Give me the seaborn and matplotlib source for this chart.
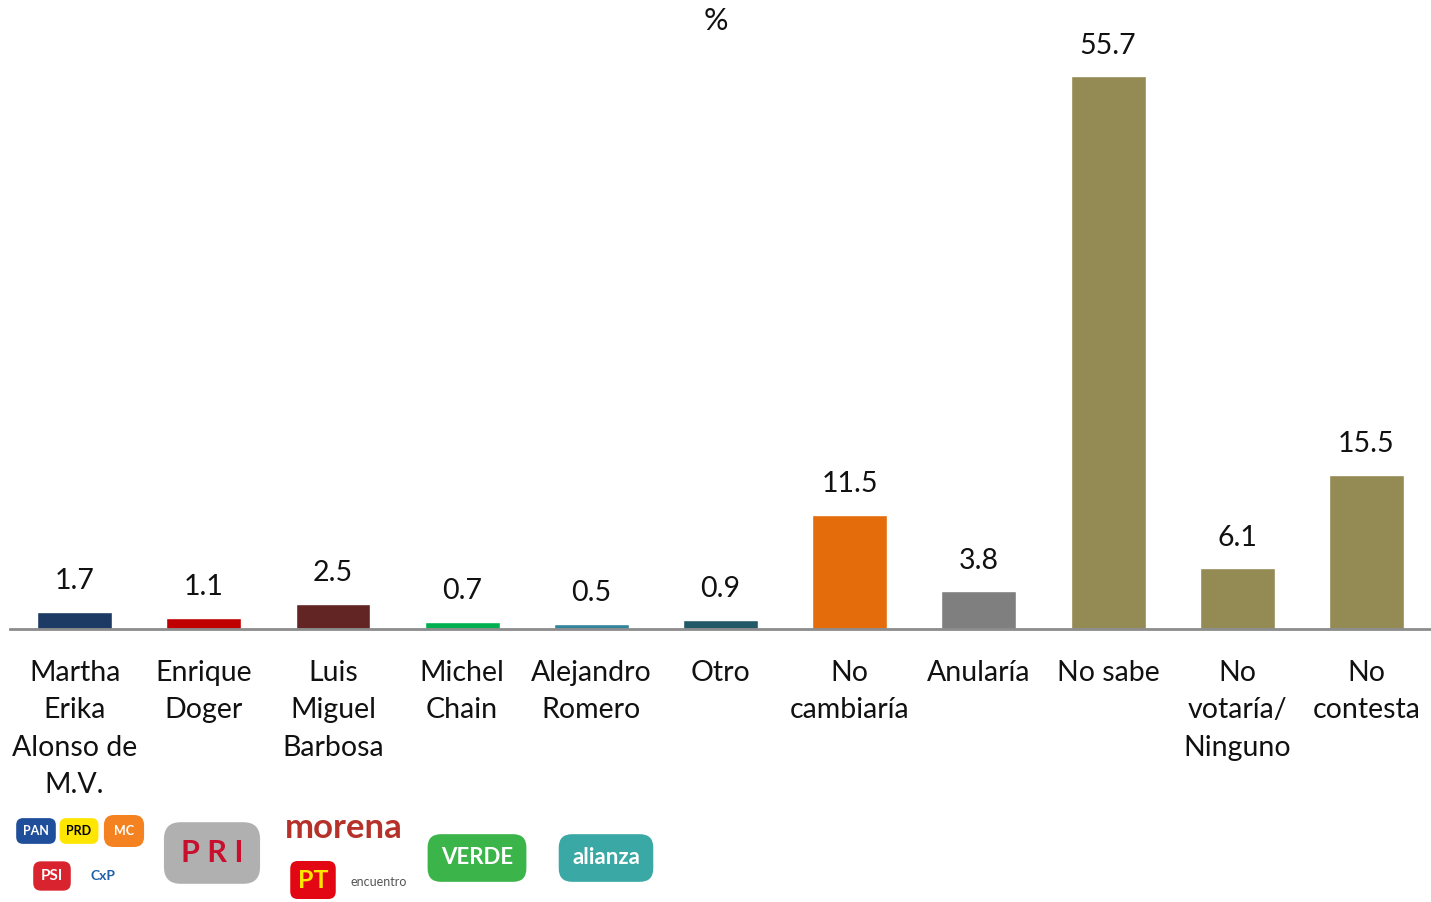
import matplotlib
matplotlib.use("Agg")
import matplotlib.pyplot as plt
import seaborn as sns
import pandas as pd

categories = ["Martha\nErika\nAlonso de\nM.V.", "Enrique\nDoger", "Luis\nMiguel\nBarbosa",
              "Michel\nChain", "Alejandro\nRomero", "Otro", "No\ncambiaría", "Anularía",
              "No sabe", "No\nvotaría/\nNinguno", "No\ncontesta"]
values = [1.7, 1.1, 2.5, 0.7, 0.5, 0.9, 11.5, 3.8, 55.7, 6.1, 15.5]
colors = ["#1c3a63", "#c00000", "#632523", "#00b050", "#31849b", "#215967",
          "#e46c0a", "#7f7f7f", "#948a54", "#948a54", "#948a54"]

sns.set_theme(style="white")
plt.rcParams["font.family"] = ["Lato", "DejaVu Sans"]

df = pd.DataFrame({"cat": categories, "val": values})

fig = plt.figure(figsize=(14.31, 9.02), dpi=100)
ax = fig.add_axes([0.007, 0.3027, 0.993, 0.66])
sns.barplot(data=df, x="cat", y="val", hue="cat", palette=colors, legend=False,
            width=0.58, ax=ax, saturation=1)
ax.set_xlim(-0.5, len(values) - 0.5)
ax.set_ylim(0, 60)
ax.set_xlabel("")
ax.set_ylabel("")
ax.set_yticks([])
for s in ["top", "right", "left"]:
    ax.spines[s].set_visible(False)
ax.spines["bottom"].set_color("#8c8c8c")
ax.spines["bottom"].set_linewidth(2)
ax.tick_params(axis="x", length=0, pad=22)
for lbl in ax.get_xticklabels():
    lbl.set_fontsize(20.5)
    lbl.set_linespacing(1.55)
    lbl.set_color("#111111")

for i, v in enumerate(values):
    ax.text(i, v + 3.1, f"{v}", ha="center", va="center", fontsize=20.5, color="#111111")

fig.text(0.5, 0.977, "%", ha="center", va="center", fontsize=22, color="#111111")

# simplified party logos
def logo(x, y, text, fc, tc, fs=9, pad=0.35):
    fig.text(x / 1431, 1 - y / 902, text, ha="center", va="center", fontsize=fs,
             color=tc, fontweight="bold",
             bbox=dict(boxstyle=f"round,pad={pad}", fc=fc, ec="none"))

logo(36, 831, "PAN", "#1f4e9a", "white", 9, 0.55)
logo(79, 831, "PRD", "#ffe600", "black", 9, 0.55)
logo(124, 831, "MC", "#f58220", "white", 9, 0.8)
logo(52, 876, "PSI", "#d9232e", "white", 11, 0.5)
logo(103, 876, "CxP", "white", "#2060a8", 10, 0.5)
logo(212, 853, "P R I", "#b0b0b0", "#c8102e", 22, 0.55)
fig.text(344 / 1431, 1 - 828 / 902, "morena", ha="center", va="center", fontsize=25,
         color="#b5312a", fontweight="bold")
logo(313, 880, "PT", "#e30613", "#ffe600", 18, 0.3)
fig.text(379 / 1431, 1 - 882 / 902, "encuentro", ha="center", va="center", fontsize=9,
         color="#555555")
logo(477, 858, "VERDE", "#3bb44a", "white", 16, 0.6)
logo(606, 858, "alianza", "#3aa8a4", "white", 16, 0.6)

fig.savefig("out.png", dpi=100)
